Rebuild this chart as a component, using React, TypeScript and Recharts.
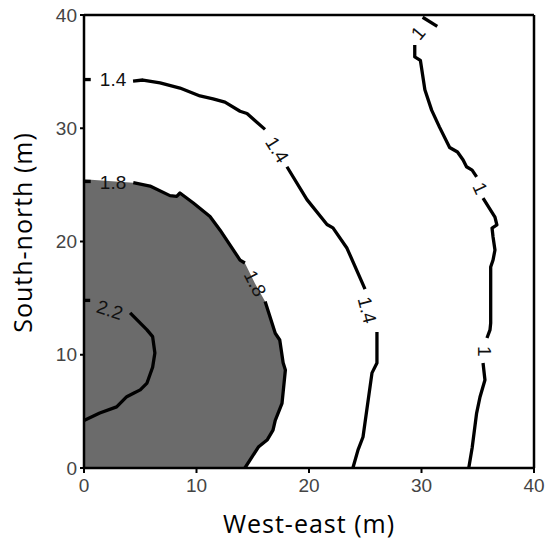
import React from 'react';
import { ComposedChart, XAxis, YAxis, Scatter, ReferenceLine, Label } from 'recharts';

const xTicks = [0, 10, 20, 30, 40];
const yTicks = [0, 10, 20, 30, 40];

// contour 1.4
const c14Dash = [{ x: 0, y: 34.3 }, { x: 0.6, y: 34.3 }];
const c14A = [
  { x: 4.36, y: 34.17 }, { x: 5.24, y: 34.26 }, { x: 6.76, y: 34.0 }, { x: 8.53, y: 33.55 },
  { x: 10.31, y: 32.85 }, { x: 11.47, y: 32.6 }, { x: 12.53, y: 32.3 }, { x: 13.87, y: 31.5 },
  { x: 14.49, y: 31.3 }, { x: 16.09, y: 29.9 },
];
const c14B = [
  { x: 18.04, y: 26.6 }, { x: 19.82, y: 23.7 }, { x: 21.6, y: 21.5 }, { x: 22.13, y: 21.2 },
  { x: 23.38, y: 19.4 }, { x: 24.98, y: 15.8 },
];
const c14C = [
  { x: 26.04, y: 12.0 }, { x: 26.04, y: 9.27 }, { x: 25.6, y: 8.4 }, { x: 24.8, y: 2.74 },
  { x: 24.36, y: 1.6 }, { x: 23.9, y: 0 },
];

// contour 1.8 (edge of the shaded zone)
const c18Dash = [{ x: 0, y: 25.3 }, { x: 0.6, y: 25.3 }];
const c18A = [
  { x: 4.38, y: 25.19 }, { x: 5.87, y: 24.9 }, { x: 7.64, y: 24.05 }, { x: 8.24, y: 23.99 },
  { x: 8.53, y: 24.28 }, { x: 9.72, y: 23.4 }, { x: 11.2, y: 22.2 }, { x: 12.1, y: 21.0 },
  { x: 13.87, y: 18.36 }, { x: 14.3, y: 18.1 },
];
const c18B = [
  { x: 16.1, y: 14.7 }, { x: 17.0, y: 11.9 }, { x: 17.4, y: 11.3 }, { x: 17.7, y: 9.3 },
  { x: 17.9, y: 8.65 }, { x: 17.6, y: 5.7 }, { x: 17.0, y: 4.2 }, { x: 16.8, y: 3.35 },
  { x: 16.3, y: 2.5 }, { x: 15.5, y: 1.85 }, { x: 14.3, y: 0 },
];
const zoneCorners = [{ x: 0, y: 25.5 }, { x: 15.2, y: 16.3 }, { x: 0, y: 0 }];
const shadedZone = [zoneCorners[0], ...c18A, zoneCorners[1], ...c18B, zoneCorners[2]];

// contour 2.2
const c22Dash = [{ x: 0, y: 14.8 }, { x: 0.55, y: 14.8 }];
const c22 = [
  { x: 4.1, y: 13.7 }, { x: 5.6, y: 12.2 }, { x: 6.1, y: 11.6 }, { x: 6.3, y: 10.15 },
  { x: 6.1, y: 8.9 }, { x: 5.6, y: 7.5 }, { x: 5.0, y: 6.9 }, { x: 4.4, y: 6.6 },
  { x: 3.8, y: 6.3 }, { x: 2.9, y: 5.4 }, { x: 1.4, y: 4.85 }, { x: 0, y: 4.2 },
];

// contour 1
const c1Top = [{ x: 30.1, y: 39.8 }, { x: 31.4, y: 39.0 }];
const c1A = [
  { x: 29.4, y: 37.35 }, { x: 29.4, y: 36.3 }, { x: 29.9, y: 36.0 }, { x: 30.3, y: 33.4 },
  { x: 30.9, y: 31.6 }, { x: 31.6, y: 30.1 }, { x: 32.5, y: 28.3 }, { x: 33.2, y: 27.9 },
  { x: 33.7, y: 27.2 }, { x: 34.0, y: 26.6 }, { x: 34.5, y: 26.3 }, { x: 34.9, y: 25.7 },
];
const c1B = [
  { x: 35.47, y: 23.84 }, { x: 36.53, y: 22.16 }, { x: 36.7, y: 21.46 }, { x: 36.27, y: 21.19 },
  { x: 36.36, y: 20.4 }, { x: 36.53, y: 19.25 }, { x: 36.36, y: 18.37 }, { x: 36.15, y: 17.75 },
  { x: 36.15, y: 12.8 }, { x: 36.09, y: 12.19 }, { x: 35.82, y: 11.48 },
];
const c1C = [
  { x: 35.47, y: 9.27 }, { x: 35.64, y: 7.77 }, { x: 35.2, y: 6.27 }, { x: 34.9, y: 4.85 },
  { x: 34.5, y: 1.77 }, { x: 34.2, y: 0 },
];

const contourLabels = [
  { x: 2.58, y: 34.3, text: '1.4', angle: 0 },
  { x: 17.16, y: 28.1, text: '1.4', angle: 58 },
  { x: 25.16, y: 13.95, text: '1.4', angle: 76 },
  { x: 2.58, y: 25.25, text: '1.8', angle: 0 },
  { x: 15.2, y: 16.3, text: '1.8', angle: 63 },
  { x: 2.3, y: 13.95, text: '2.2', angle: 18 },
  { x: 29.7, y: 38.4, text: '1', angle: -50 },
  { x: 35.2, y: 24.7, text: '1', angle: 65 },
  { x: 35.64, y: 10.3, text: '1', angle: 90 },
];

const lines = [c14Dash, c14A, c14B, c14C, c18Dash, c18A, c18B, c22Dash, c22, c1Top, c1A, c1B, c1C];

const noDot = () => <g />;

const LabelShape = (p: any) => {
  const { cx, cy, payload } = p;
  return (
    <text
      x={cx}
      y={cy}
      transform={`rotate(${payload.angle} ${cx} ${cy})`}
      textAnchor="middle"
      dominantBaseline="central"
      fontSize={19}
      fontFamily="'Liberation Sans', Arial, sans-serif"
      fill="#111"
    >
      {payload.text}
    </text>
  );
};

const YTitle = (props: any) => {
  const vb = props.viewBox || { x: 0, y: 15, width: 84, height: 453 };
  const cx = vb.x + 22;
  const cy = vb.y + vb.height / 2 - 9;
  return (
    <text
      x={cx}
      y={cy}
      transform={`rotate(-90 ${cx} ${cy})`}
      textAnchor="middle"
      dominantBaseline="central"
      fontSize={25}
      letterSpacing={1}
      fontFamily="'Open Sans', sans-serif"
      fill="#000"
    >
      South-north (m)
    </text>
  );
};

const tickStyle = { fill: '#444', fontSize: 19, fontFamily: "'Liberation Sans', Arial, sans-serif" };

export default function App() {
  return (
    <div style={{ position: 'absolute', left: 0, top: 0, width: 546, height: 539, background: '#fff' }}>
      <ComposedChart width={546} height={539} margin={{ top: 15, right: 12, left: 0, bottom: 0 }}>
        <Scatter
          data={shadedZone}
          shape={noDot}
          line={{ fill: '#6b6b6b', stroke: 'none' }}
          isAnimationActive={false}
          zIndex={100}
        />
        {lines.map((d, i) => (
          <Scatter
            key={i}
            data={d}
            shape={noDot}
            line={{ stroke: '#000', strokeWidth: 3.3, strokeLinejoin: 'round', strokeLinecap: 'butt' }}
            isAnimationActive={false}
          />
        ))}
        <Scatter data={contourLabels} shape={LabelShape} isAnimationActive={false} />
        <XAxis
          type="number"
          dataKey="x"
          domain={[0, 40]}
          ticks={xTicks}
          height={71}
          tick={tickStyle}
          tickSize={5}
          tickMargin={6}
          axisLine={{ stroke: '#000', strokeWidth: 2.5 }}
          tickLine={{ stroke: '#000', strokeWidth: 2 }}
        >
          <Label
            value="West-east (m)"
            position="insideBottom"
            offset={6}
            style={{ fontSize: 25, fontFamily: "'Open Sans', sans-serif", fill: '#000', letterSpacing: 1 }}
          />
        </XAxis>
        <YAxis
          type="number"
          dataKey="y"
          domain={[0, 40]}
          ticks={yTicks}
          width={84}
          tick={tickStyle}
          tickSize={4}
          tickMargin={3}
          axisLine={{ stroke: '#000', strokeWidth: 2.5 }}
          tickLine={{ stroke: '#000', strokeWidth: 2 }}
        >
          <Label content={YTitle} />
        </YAxis>
        <ReferenceLine y={40} stroke="#000" strokeWidth={2.5} />
        <ReferenceLine x={40} stroke="#000" strokeWidth={2.5} />
      </ComposedChart>
    </div>
  );
}
